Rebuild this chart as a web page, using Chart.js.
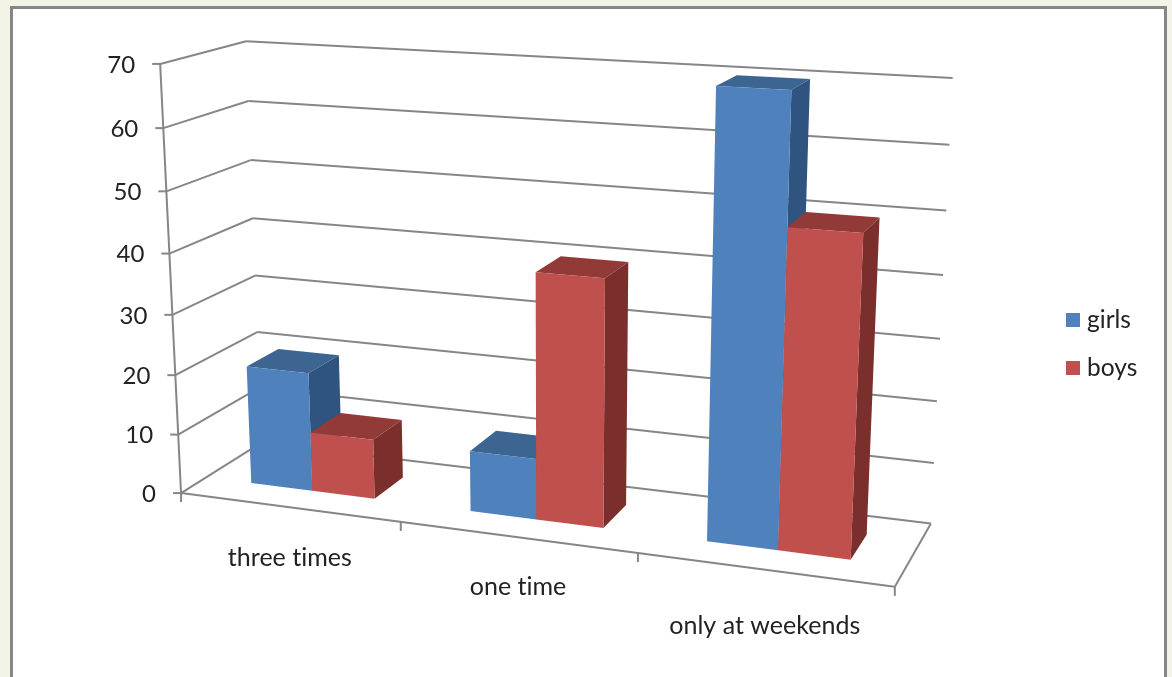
<!DOCTYPE html>
<html>
<head>
<meta charset="utf-8">
<title>Bars</title>
<script src="https://cdn.jsdelivr.net/npm/chart.js@4"></script>
<style>
    html, body { margin: 0; height: 100%; overflow: hidden; background: #f3f3e8; }
    #panel { position: absolute; left: 10px; top: 6px; width: 1151px; height: 700px; background: #fff; border: 3px solid #868686; }
    #wrap { position: absolute; left: 0; top: 0; width: 1172px; height: 677px; }
</style>
</head>
<body>
<div id="panel"></div>
<div id="wrap"><canvas id="myChart"></canvas></div>
<script>
const categories = ['three times', 'one time', 'only at weekends'];
const girls = [20, 10, 70];
const boys = [10, 40, 50];
const yTicks = [0, 10, 20, 30, 40, 50, 60, 70];

const LINE = '#868686';
const TEXT = '#222222';

// bar depth inside the box, gap depth 150%
const DEPTH_NEAR = 0.3, DEPTH_FAR = 0.7;

// box corners on screen: [u, v, w, screenX, screenY]
const anchors = [
    [0, 0, 0, 182, 493], [0, 1, 0, 160, 64], [0, 6/7, 0, 163, 128],
    [0, 0, 1, 261, 443], [0, 1, 1, 247, 41], [0, 6/7, 1, 248, 101],
    [1, 0, 1, 931, 523], [1, 1, 1, 953, 78], [1, 6/7, 1, 949, 145], [1, 1/7, 1, 934, 463],
    [1, 0, 0, 895, 587], [1/3, 0, 0, 400, 522], [2/3, 0, 0, 638, 553]
];

// distance of each category label below the floor edge
const labelDrop = [51, 50, 56];

// least squares fit of the 3D to 2D perspective matrix
function fitProjection(points) {
    const n = 11;
    const A = Array.from({ length: n }, () => new Array(n + 1).fill(0));
    const addRow = (row, rhs) => {
        for (let i = 0; i < n; i++) {
            for (let j = 0; j < n; j++) A[i][j] += row[i] * row[j];
            A[i][n] += row[i] * rhs;
        }
    };
    points.forEach(([u, v, w, sx, sy]) => {
        const x = sx / 1000, y = sy / 1000;
        addRow([u, v, w, 1, 0, 0, 0, 0, -x * u, -x * v, -x * w], x);
        addRow([0, 0, 0, 0, u, v, w, 1, -y * u, -y * v, -y * w], y);
    });
    for (let c = 0; c < n; c++) {
        let pivot = c;
        for (let r = c + 1; r < n; r++) if (Math.abs(A[r][c]) > Math.abs(A[pivot][c])) pivot = r;
        [A[c], A[pivot]] = [A[pivot], A[c]];
        for (let r = 0; r < n; r++) {
            if (r === c) continue;
            const f = A[r][c] / A[c][c];
            for (let k = c; k <= n; k++) A[r][k] -= f * A[c][k];
        }
    }
    return A.map((row, i) => row[n] / row[i]);
}

const m = fitProjection(anchors);

function project(u, v, w) {
    const d = m[8] * u + m[9] * v + m[10] * w + 1;
    return [
        1000 * (m[0] * u + m[1] * v + m[2] * w + m[3]) / d,
        1000 * (m[4] * u + m[5] * v + m[6] * w + m[7]) / d
    ];
}

function line(ctx, a, b) {
    ctx.beginPath();
    ctx.moveTo(a[0], a[1]);
    ctx.lineTo(b[0], b[1]);
    ctx.stroke();
}

function face(ctx, pts, color) {
    ctx.fillStyle = color;
    ctx.beginPath();
    pts.forEach((p, i) => i ? ctx.lineTo(p[0], p[1]) : ctx.moveTo(p[0], p[1]));
    ctx.closePath();
    ctx.fill();
}

function drawWalls(chart, ctx) {
    const y = chart.scales.y;
    const area = chart.chartArea;
    const toV = (val) => (area.bottom - y.getPixelForValue(val)) / area.height;

    ctx.strokeStyle = LINE;
    ctx.lineWidth = 2;

    // grid lines run along the left wall and the back wall
    yTicks.forEach((val) => {
        const v = toV(val);
        const front = project(0, v, 0);
        line(ctx, [front[0] - 8, front[1]], front);
        line(ctx, front, project(0, v, 1));
        line(ctx, project(0, v, 1), project(1, v, 1));
    });
    line(ctx, project(0, 1, 0), project(0, 0, 0));

    // floor outline and category ticks
    line(ctx, project(0, 0, 0), project(1, 0, 0));
    line(ctx, project(1, 0, 0), project(1, 0, 1));
    for (let i = 0; i <= categories.length; i++) {
        const p = project(i / categories.length, 0, 0);
        line(ctx, p, [p[0], p[1] + 9]);
    }

    ctx.fillStyle = TEXT;
    ctx.letterSpacing = '0.01px'; // keeps "ti" from turning into a ligature
    ctx.textBaseline = 'middle';
    ctx.font = '24px Lato';
    ctx.textAlign = 'right';
    yTicks.forEach((val) => {
        const p = project(0, toV(val), 0);
        ctx.fillText(String(val), p[0] - 25, p[1] + 1);
    });
    ctx.font = '25px Lato';
    ctx.textAlign = 'center';
    categories.forEach((label, i) => {
        const p = project((i + 0.5) / categories.length, 0, 0);
        ctx.fillText(label, p[0] + 1, p[1] + labelDrop[i]);
    });
}

function drawBars(chart, ctx) {
    const area = chart.chartArea;
    chart.data.datasets.forEach((ds, d) => {
        chart.getDatasetMeta(d).data.forEach((bar) => {
            const { x, y, base, width } = bar.getProps(['x', 'y', 'base', 'width'], true);
            const u0 = (x - width / 2 - area.left) / area.width;
            const u1 = (x + width / 2 - area.left) / area.width;
            const v0 = (area.bottom - base) / area.height;
            const v1 = (area.bottom - y) / area.height;
            const n = DEPTH_NEAR, f = DEPTH_FAR;
            face(ctx, [project(u0, v1, n), project(u1, v1, n), project(u1, v1, f), project(u0, v1, f)], ds.topColor);
            face(ctx, [project(u1, v0, n), project(u1, v1, n), project(u1, v1, f), project(u1, v0, f)], ds.sideColor);
            face(ctx, [project(u0, v0, n), project(u1, v0, n), project(u1, v1, n), project(u0, v1, n)], ds.backgroundColor);
        });
    });
}

// legend with a tighter swatch to text gap than the built-in one allows
function drawLegend(chart, ctx) {
    ctx.font = '24.5px Lato';
    ctx.textAlign = 'left';
    ctx.textBaseline = 'middle';
    chart.data.datasets.forEach((ds, i) => {
        const rowY = 320 + i * 48;
        ctx.fillStyle = ds.backgroundColor;
        ctx.fillRect(1066, rowY - 7, 14, 14);
        ctx.fillStyle = TEXT;
        ctx.fillText(ds.label, 1087, rowY);
    });
}

const box3d = {
    id: 'box3d',
    beforeDatasetsDraw(chart) {
        drawWalls(chart, chart.ctx);
        drawBars(chart, chart.ctx);
        drawLegend(chart, chart.ctx);
        return false; // bars are already painted in perspective
    }
};

new Chart(document.getElementById('myChart').getContext('2d'), {
    type: 'bar',
    data: {
        labels: categories,
        datasets: [
            { label: 'girls', data: girls, backgroundColor: '#4f81bd', topColor: '#3d6592', sideColor: '#2f5480' },
            { label: 'boys', data: boys, backgroundColor: '#c0504d', topColor: '#923a38', sideColor: '#7a2f2d' }
        ]
    },
    options: {
        responsive: true,
        maintainAspectRatio: false,
        animation: false,
        datasets: { bar: { categoryPercentage: 2 / 3.5, barPercentage: 1 } },
        scales: {
            x: { type: 'category', display: false },
            y: { type: 'linear', display: false, min: 0, max: 70 }
        },
        plugins: {
            legend: { display: false },
            tooltip: { enabled: false }
        }
    },
    plugins: [box3d]
});
</script>
</body>
</html>
